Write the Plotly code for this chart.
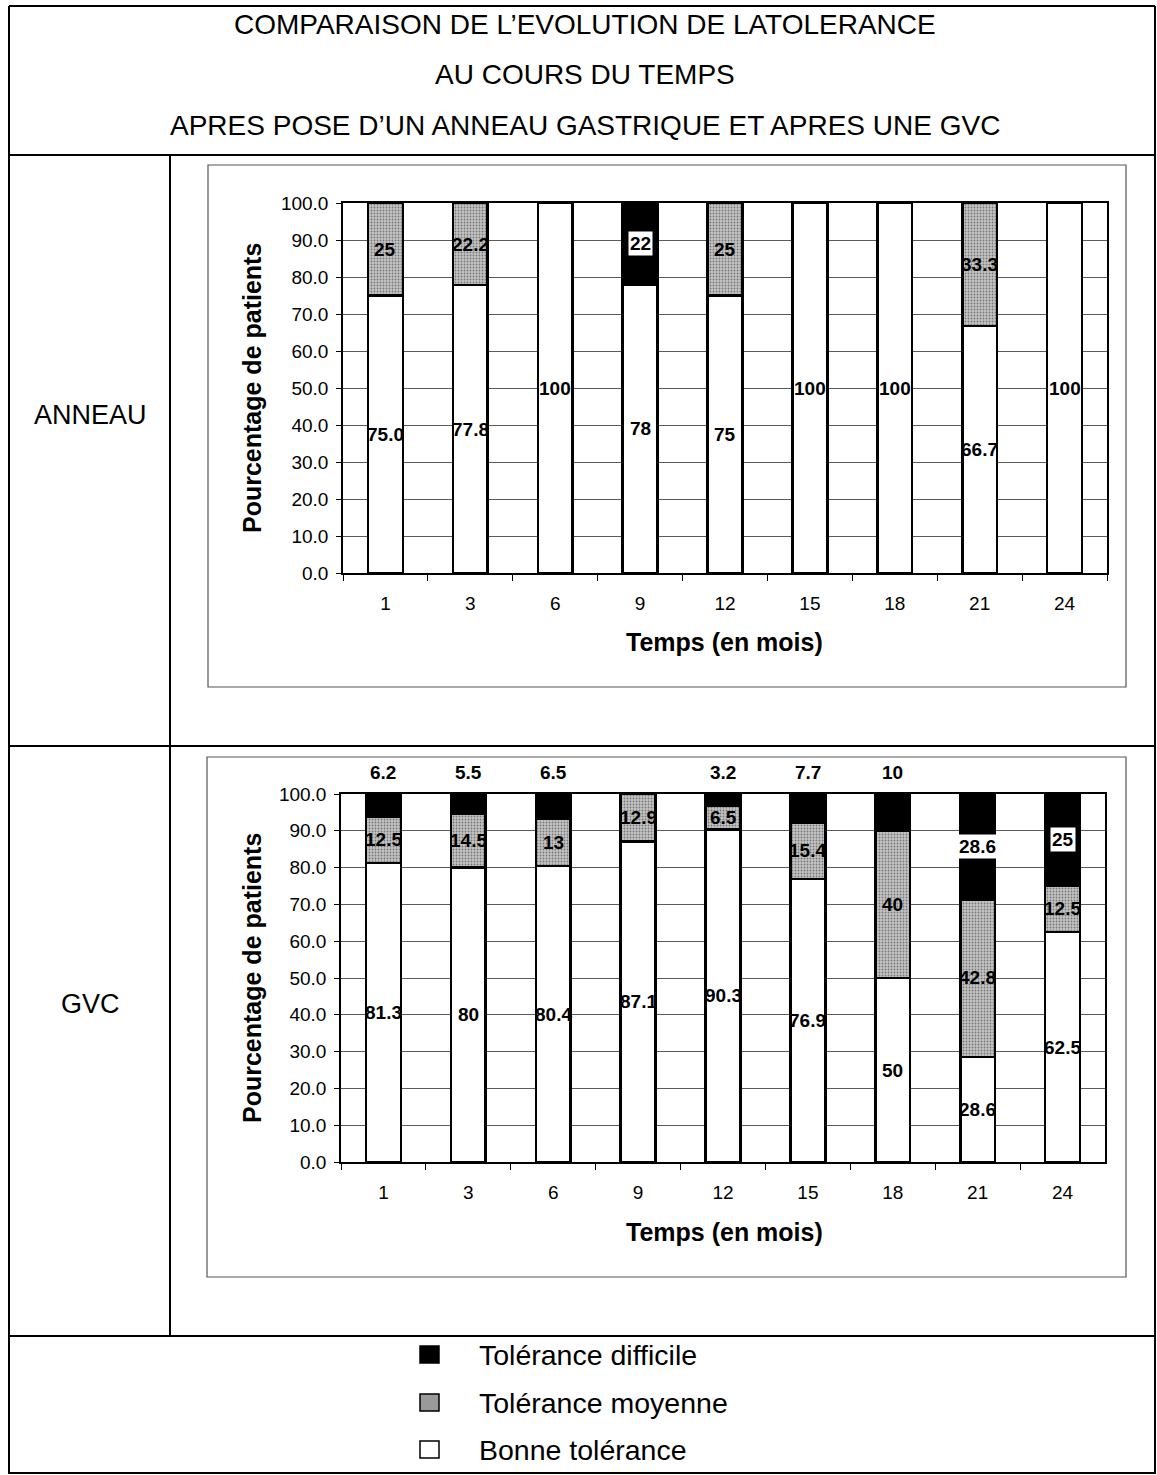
import plotly.graph_objects as go

# ---------------- data ----------------
months = ["1", "3", "6", "9", "12", "15", "18", "21", "24"]

anneau_bonne = [75.0, 77.8, 100, 78, 75, 100, 100, 66.7, 100]
anneau_moyenne = [25, 22.2, 0, 0, 25, 0, 0, 33.3, 0]
anneau_difficile = [0, 0, 0, 22, 0, 0, 0, 0, 0]
anneau_bonne_lbl = ["75.0", "77.8", "100", "78", "75", "100", "100", "66.7", "100"]
anneau_moyenne_lbl = ["25", "22.2", "", "", "25", "", "", "33.3", ""]
anneau_difficile_lbl = ["", "", "", "22", "", "", "", "", ""]

gvc_bonne = [81.3, 80, 80.4, 87.1, 90.3, 76.9, 50, 28.6, 62.5]
gvc_moyenne = [12.5, 14.5, 13, 12.9, 6.5, 15.4, 40, 42.8, 12.5]
gvc_difficile = [6.2, 5.5, 6.5, 0, 3.2, 7.7, 10, 28.6, 25]
gvc_bonne_lbl = ["81.3", "80", "80.4", "87.1", "90.3", "76.9", "50", "28.6", "62.5"]
gvc_moyenne_lbl = ["12.5", "14.5", "13", "12.9", "6.5", "15.4", "40", "42.8", "12.5"]
gvc_difficile_lbl = ["6.2", "5.5", "6.5", "", "3.2", "7.7", "10", "28.6", "25"]

series_names = ["Bonne tolérance", "Tolérance moyenne", "Tolérance difficile"]
title_lines = ["COMPARAISON DE L\u2019EVOLUTION DE LATOLERANCE",
               "AU COURS DU TEMPS",
               "APRES POSE D\u2019UN ANNEAU GASTRIQUE ET APRES UNE GVC"]
row_labels = ["ANNEAU", "GVC"]
y_title = "Pourcentage de patients"
x_title = "Temps (en mois)"

# ---------------- styling ----------------
W, H = 1157, 1475
FONT = "Liberation Sans, Arial, Helvetica, sans-serif"
BAR_W = 0.41


def px(x):
    return x / W


def py(y):
    return 1 - y / H


def nz(vals):
    return [v if v else None for v in vals]


fig = go.Figure()

styles = [
    dict(color="white", pattern=None),
    dict(color="#bdbdbd", pattern=dict(shape=".", fgcolor="#2a2a2a", bgcolor="#c4c4c4",
                                       size=3, solidity=0.3, fillmode="overlay")),
    dict(color="black", pattern=None),
]

annotations = []


def add_panel(xa, ya, bonne, moy, diff, lb, lm, ld):
    for name, vals, st in zip(series_names, [bonne, moy, diff], styles):
        marker = dict(color=st["color"], line=dict(color="black", width=2.5))
        if st["pattern"]:
            marker["pattern"] = st["pattern"]
        fig.add_trace(go.Bar(x=months, y=nz(vals), name=name, width=BAR_W,
                             marker=marker, xaxis=xa, yaxis=ya, showlegend=False,
                             hoverinfo="skip"))
    lab_font = dict(family=FONT, size=19, color="black", weight="bold")
    for i in range(len(months)):
        b, mo, d = bonne[i], moy[i], diff[i]
        if b and lb[i]:
            annotations.append(dict(x=i, y=b / 2, xref=xa, yref=ya, text=lb[i],
                                    showarrow=False, font=lab_font, yanchor="middle"))
        if mo and lm[i]:
            annotations.append(dict(x=i, y=b + mo / 2, xref=xa, yref=ya, text=lm[i],
                                    showarrow=False, font=lab_font, yanchor="middle"))
        if d and ld[i]:
            if d > 10:
                annotations.append(dict(x=i, y=b + mo + d / 2, xref=xa, yref=ya,
                                        text=ld[i], showarrow=False, font=lab_font,
                                        bgcolor="white", borderpad=1, yanchor="middle"))
            else:
                # small values are written just above the plot area
                annotations.append(dict(x=i, y=1.058, xref=xa, yref=ya + " domain",
                                        text=ld[i], showarrow=False, font=lab_font,
                                        yanchor="middle"))


add_panel("x", "y", anneau_bonne, anneau_moyenne, anneau_difficile,
          anneau_bonne_lbl, anneau_moyenne_lbl, anneau_difficile_lbl)
add_panel("x2", "y2", gvc_bonne, gvc_moyenne, gvc_difficile,
          gvc_bonne_lbl, gvc_moyenne_lbl, gvc_difficile_lbl)

tick_font = dict(family=FONT, size=19, color="black")


def yaxis_cfg(dom, anchor):
    return dict(domain=dom, anchor=anchor, range=[0, 100], dtick=10, tickformat=".1f",
                ticks="outside", ticklen=5, tickcolor="black", showline=True,
                linecolor="black", linewidth=1.5, mirror=True, showgrid=True,
                gridcolor="#5a5a5a", gridwidth=1, zeroline=False, tickfont=tick_font,
                ticklabelstandoff=4, fixedrange=True, automargin=False)


def xaxis_cfg(dom, anchor):
    return dict(domain=dom, anchor=anchor, type="category", range=[-0.5, len(months) - 0.5],
                ticks="outside", tickangle=0,
                tickson="boundaries", ticklen=6, tickcolor="black", showline=True,
                linecolor="black", linewidth=1.5, mirror=True, showgrid=False,
                tickfont=tick_font, ticklabelstandoff=12, fixedrange=True, automargin=False)


# panel geometry (pixels)
a_x0, a_x1, a_y100, a_y0 = 343, 1107, 203, 573
g_x0, g_x1, g_y100, g_y0 = 341, 1105, 794, 1162

fig.update_layout(
    template="none",
    width=W, height=H, margin=dict(l=0, r=0, t=0, b=0, pad=0, autoexpand=False),
    paper_bgcolor="white", plot_bgcolor="white",
    barmode="stack", bargap=0.59, showlegend=False,
    font=dict(family=FONT, color="black"),
    xaxis=xaxis_cfg([px(a_x0), px(a_x1)], "y"),
    yaxis=yaxis_cfg([py(a_y0), py(a_y100)], "x"),
    xaxis2=xaxis_cfg([px(g_x0), px(g_x1)], "y2"),
    yaxis2=yaxis_cfg([py(g_y0), py(g_y100)], "x2"),
)

shapes = []
line_k = dict(color="black", width=2)


def pline(x0, y0, x1, y1, line=line_k):
    shapes.append(dict(type="line", xref="paper", yref="paper", x0=px(x0), y0=py(y0),
                       x1=px(x1), y1=py(y1), line=line, layer="above"))


# table frame
pline(9, 6, 1155, 6)
pline(9, 6, 9, 1474)
pline(1155, 6, 1155, 1474)
pline(9, 1473, 1155, 1473)
pline(9, 155, 1155, 155)
pline(9, 746, 1155, 746)
pline(9, 1336, 1155, 1336)
pline(170, 155, 170, 1336)

# chart frames
for (x0, y0, x1, y1) in [(208, 165, 1126, 687), (207, 757, 1126, 1277)]:
    shapes.append(dict(type="rect", xref="paper", yref="paper", x0=px(x0), y0=py(y1),
                       x1=px(x1), y1=py(y0), line=dict(color="#555", width=1.2),
                       fillcolor="rgba(0,0,0,0)", layer="below"))

big_font = dict(family=FONT, size=28, color="black")
# title
for t, yy in zip(title_lines, [25, 75, 126]):
    annotations.append(dict(x=px(585), y=py(yy), xref="paper", yref="paper", text=t,
                            showarrow=False, font=big_font, xanchor="center", yanchor="middle"))
# row labels
for t, yy in zip(row_labels, [415, 1004]):
    annotations.append(dict(x=px(90), y=py(yy), xref="paper", yref="paper", text=t,
                            showarrow=False, font=dict(family=FONT, size=27, color="black"),
                            xanchor="center", yanchor="middle"))

axt_font = dict(family=FONT, size=25, color="black", weight="bold")
for (yc, xt_y) in [(388, 642), (978, 1232)]:
    annotations.append(dict(x=px(252), y=py(yc), xref="paper", yref="paper", text=y_title,
                            textangle=-90, showarrow=False, font=axt_font,
                            xanchor="center", yanchor="middle"))
    annotations.append(dict(x=px(724), y=py(xt_y), xref="paper", yref="paper", text=x_title,
                            showarrow=False, font=axt_font, xanchor="center", yanchor="middle"))

# legend
leg_items = [
    (series_names[2], "black", 1355),
    (series_names[1], "#9a9a9a", 1403),
    (series_names[0], "white", 1450),
]
for name, col, yc in leg_items:
    shapes.append(dict(type="rect", xref="paper", yref="paper", x0=px(420), x1=px(439),
                       y0=py(yc + 8), y1=py(yc - 9), fillcolor=col,
                       line=dict(color="black", width=1.5), layer="above"))
    annotations.append(dict(x=px(477), y=py(yc), xref="paper", yref="paper", text=name,
                            showarrow=False, font=dict(family=FONT, size=28.5, color="black"),
                            xanchor="left", yanchor="middle"))

fig.update_layout(shapes=shapes, annotations=annotations)

fig.write_html("out.html", config={"displayModeBar": False},
               post_script="document.body.style.margin='0px';document.body.style.padding='0px';")
